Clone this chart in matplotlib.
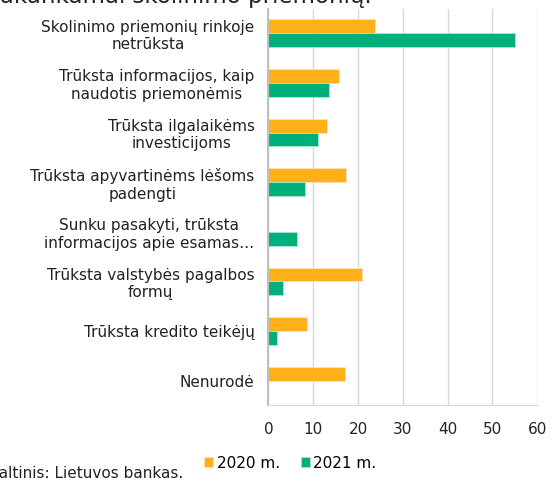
import matplotlib.pyplot as plt
import numpy as np

categories = [
    "Skolinimo priemonių rinkoje\nnetrūksta",
    "Trūksta informacijos, kaip\nnaudotis priemonėmis",
    "Trūksta ilgalaikėms\ninvesticijoms",
    "Trūksta apyvartinėms lėšoms\npadengti",
    "Sunku pasakyti, trūksta\ninformacijos apie esamas…",
    "Trūksta valstybės pagalbos\nformų",
    "Trūksta kredito teikėjų",
    "Nenurodė",
]
vals_2020 = [23.8, 15.7, 13.0, 17.4, 0, 20.9, 8.7, 17.0]
vals_2021 = [55.0, 13.4, 11.0, 8.2, 6.3, 3.3, 2.0, 0]
xticks = [0, 10, 20, 30, 40, 50, 60]

orange = "#FDB01A"
green = "#00B07C"

fig = plt.figure(figsize=(5.53, 4.87), dpi=100)
ax = fig.add_axes([0.4855, 0.1674, 0.4861, 0.8151])

y = np.arange(len(categories))
h = 0.28
ax.barh(y - h / 2, vals_2020, height=h, color=orange, edgecolor="#FDE3B0", linewidth=0.6, label="2020 m.")
ax.barh(y + h / 2, vals_2021, height=h, color=green, edgecolor="#A8E6D0", linewidth=0.6, label="2021 m.")

ax.set_ylim(len(categories) - 0.5, -0.5)
ax.set_xlim(0, 60)
ax.set_xticks(xticks)
ax.set_yticks(y)
ax.set_yticklabels(categories, fontsize=11, color="#222222", multialignment="center")
ax.tick_params(axis="x", labelsize=11, length=0, pad=12, colors="#222222")
ax.tick_params(axis="y", length=0, pad=10)
ax.grid(axis="x", color="#D9D9D9", linewidth=1)
ax.set_axisbelow(True)
for s in ["top", "right"]:
    ax.spines[s].set_visible(False)
ax.spines["left"].set_color("#BFBFBF")
ax.spines["left"].set_linewidth(1.5)
ax.spines["bottom"].set_color("#D9D9D9")

fig.legend(loc="center", bbox_to_anchor=(0.525, 0.049), ncol=2, frameon=False,
           fontsize=11, handlelength=0.6, handleheight=0.6, handletextpad=0.2,
           columnspacing=1.4)

fig.text(-0.02, 0.012, "Šaltinis: Lietuvos bankas.", fontsize=11, color="#222222", ha="left", va="bottom")
fig.text(0.672, 0.993, "Nepakankamai skolinimo priemonių.", fontsize=16.5, color="#222222",
         ha="right", va="baseline")

fig.savefig("out.png", dpi=100)
